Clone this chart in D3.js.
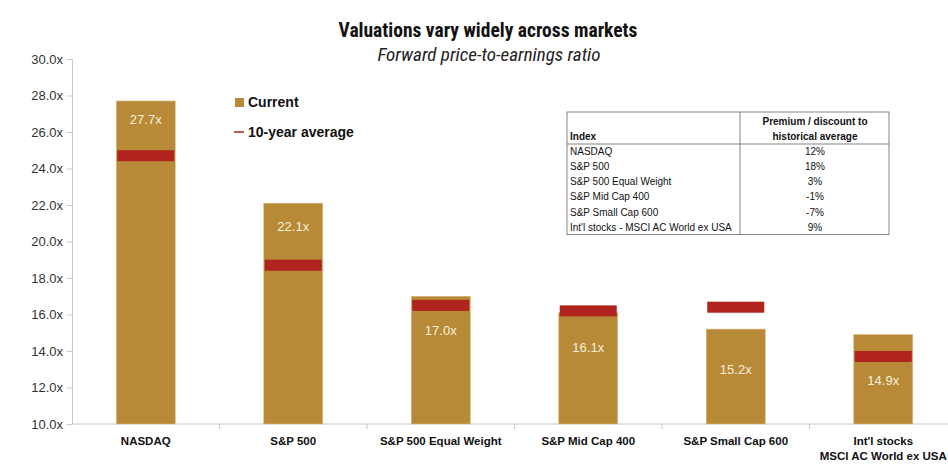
<!DOCTYPE html>
<html>
<head>
<meta charset="utf-8">
<script src="https://cdn.jsdelivr.net/npm/d3@7"></script>
<style>
  body { margin: 0; background: #fff; }
  svg { display: block; font-family: "Liberation Sans", Arial, sans-serif; }
  .narrow { font-family: "Liberation Sans Narrow", "Roboto Condensed", "Liberation Sans", sans-serif; }
</style>
</head>
<body>
<svg id="chart" width="948" height="474"></svg>
<script>
// --- data ---
const categories = ['NASDAQ', 'S&P 500', 'S&P 500 Equal Weight', 'S&P Mid Cap 400', 'S&P Small Cap 600', "Int'l stocks\nMSCI AC World ex USA"];
const current = [27.7, 22.1, 17.0, 16.1, 15.2, 14.9];
const tenYearAvg = [24.7, 18.7, 16.5, 16.2, 16.4, 13.7];
const labelAt = [26.7, 20.8, 15.1, 14.2, 13.0, 12.4];
const yTicks = [10, 12, 14, 16, 18, 20, 22, 24, 26, 28, 30];

const tableIndex = ['NASDAQ', 'S&P 500', 'S&P 500 Equal Weight', 'S&P Mid Cap 400', 'S&P Small Cap 600', "Int'l stocks - MSCI AC World ex USA"];
const tablePremium = ['12%', '18%', '3%', '-1%', '-7%', '9%'];

const gold = '#b88a37';
const red = '#b0231f';

const svg = d3.select('#chart');

const margin = { left: 72, top: 59, bottom: 424 };
const x = d3.scaleBand().domain(categories).range([72, 957]).paddingInner(0.6).paddingOuter(0.3);
const y = d3.scaleLinear().domain([10, 30]).range([424, 59]);

// titles
svg.append('text').attr('class', 'narrow')
    .attr('x', 488).attr('y', 37).attr('text-anchor', 'middle')
    .attr('font-size', 19.5).attr('font-weight', 'bold').attr('fill', '#111')
    .text('Valuations vary widely across markets');
svg.append('text').attr('class', 'narrow')
    .attr('x', 489).attr('y', 61).attr('text-anchor', 'middle')
    .attr('font-size', 19).attr('font-style', 'italic').attr('fill', '#222')
    .text('Forward price-to-earnings ratio');

// y axis
const yAxis = svg.append('g')
    .attr('transform', `translate(${margin.left},0)`)
    .call(d3.axisLeft(y).tickValues(yTicks).tickSize(5).tickFormat(d => d3.format('.1f')(d) + 'x'));
yAxis.select('.domain').attr('stroke', '#c9c9c9');
yAxis.selectAll('.tick line').attr('stroke', '#c9c9c9');
yAxis.selectAll('.tick text').attr('font-size', 13).attr('fill', '#333').attr('x', -9);

// x axis baseline and category ticks
const band = x.step();
svg.append('line')
    .attr('x1', 72).attr('x2', 948).attr('y1', y(10)).attr('y2', y(10))
    .attr('stroke', '#c9c9c9');
svg.selectAll('.cat-tick')
    .data(categories.slice(1))
    .join('line')
    .attr('x1', d => x(d) + x.bandwidth() / 2 - band / 2)
    .attr('x2', d => x(d) + x.bandwidth() / 2 - band / 2)
    .attr('y1', y(10)).attr('y2', y(10) + 5)
    .attr('stroke', '#c9c9c9');

// bars
svg.selectAll('.bar')
    .data(categories)
    .join('rect')
    .attr('x', d => x(d))
    .attr('width', x.bandwidth())
    .attr('y', (d, i) => y(current[i]))
    .attr('height', (d, i) => y(10) - y(current[i]))
    .attr('fill', gold)
    .attr('stroke', '#d8bd86').attr('stroke-width', 0.6);

// 10-year average markers
svg.selectAll('.avg')
    .data(categories)
    .join('rect')
    .attr('x', d => x(d) + 1)
    .attr('width', x.bandwidth() - 2)
    .attr('y', (d, i) => y(tenYearAvg[i]) - 5.5)
    .attr('height', 11)
    .attr('fill', red);

// value labels
svg.selectAll('.val')
    .data(categories)
    .join('text')
    .attr('x', d => x(d) + x.bandwidth() / 2)
    .attr('y', (d, i) => y(labelAt[i]))
    .attr('dy', '0.35em')
    .attr('text-anchor', 'middle')
    .attr('font-size', 13)
    .attr('fill', '#f6efdd')
    .text((d, i) => current[i].toFixed(1) + 'x');

// category labels
svg.selectAll('.cat')
    .data(categories)
    .join('text')
    .attr('x', d => x(d) + x.bandwidth() / 2)
    .attr('y', 445)
    .attr('text-anchor', 'middle')
    .attr('font-size', 11.5)
    .attr('font-weight', 'bold')
    .attr('fill', '#111')
    .each(function(d) {
        const lines = d.split('\n');
        lines.forEach((line, i) => {
            d3.select(this).append('tspan')
                .attr('x', x(d) + x.bandwidth() / 2)
                .attr('dy', i === 0 ? 0 : 15)
                .text(line);
        });
    });

// legend
const legend = svg.append('g').attr('font-size', 14).attr('font-weight', 'bold').attr('fill', '#111');
legend.append('rect').attr('x', 235).attr('y', 98).attr('width', 9).attr('height', 9).attr('fill', gold);
legend.append('text').attr('x', 248).attr('y', 107).text('Current');
legend.append('line').attr('x1', 234).attr('x2', 244).attr('y1', 132).attr('y2', 132)
    .attr('stroke', red).attr('stroke-width', 1.5);
legend.append('text').attr('x', 248).attr('y', 137).text('10-year average');

// table
const tbl = svg.append('g').attr('font-size', 10).attr('fill', '#111');
const tx0 = 567, tx1 = 889, txMid = 740, ty0 = 112, tyHead = 144, rowH = 15.1;
const ty1 = tyHead + rowH * tableIndex.length;
tbl.append('rect').attr('x', tx0).attr('y', ty0).attr('width', tx1 - tx0).attr('height', ty1 - ty0)
    .attr('fill', '#fff').attr('stroke', '#666').attr('stroke-width', 0.8);
tbl.append('line').attr('x1', txMid).attr('x2', txMid).attr('y1', ty0).attr('y2', ty1)
    .attr('stroke', '#666').attr('stroke-width', 0.8);
tbl.append('line').attr('x1', tx0).attr('x2', tx1).attr('y1', tyHead).attr('y2', tyHead)
    .attr('stroke', '#666').attr('stroke-width', 0.8);
tbl.append('text').attr('x', tx0 + 3).attr('y', tyHead - 4).attr('font-weight', 'bold').text('Index');
tbl.append('text').attr('x', 815).attr('y', 125).attr('text-anchor', 'middle').attr('font-weight', 'bold').text('Premium / discount to');
tbl.append('text').attr('x', 815).attr('y', 140).attr('text-anchor', 'middle').attr('font-weight', 'bold').text('historical average');
tbl.selectAll('.ti')
    .data(tableIndex)
    .join('text')
    .attr('x', tx0 + 3)
    .attr('y', (d, i) => tyHead + rowH * (i + 1) - 4)
    .text(d => d);
tbl.selectAll('.tp')
    .data(tablePremium)
    .join('text')
    .attr('x', 815)
    .attr('text-anchor', 'middle')
    .attr('y', (d, i) => tyHead + rowH * (i + 1) - 4)
    .text(d => d);
</script>
</body>
</html>
